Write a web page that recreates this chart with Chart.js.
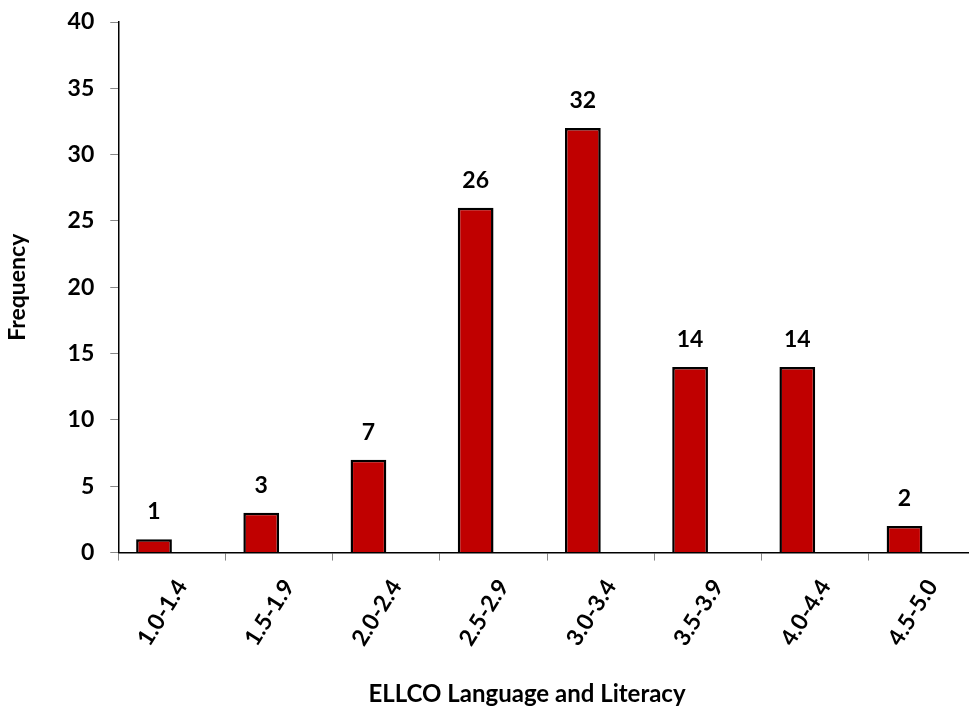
<!DOCTYPE html>
<html>
  <head>
    <title>ELLCO Language and Literacy</title>
    <style>
      html, body { margin: 0; padding: 0; background: #fff; overflow: hidden; }
      #wrap { position: relative; width: 976px; height: 709px; }
    </style>
  </head>
  <body>
    <div id="wrap"><canvas id="histChart"></canvas></div>

    <script src="https://cdn.jsdelivr.net/npm/chart.js@4/dist/chart.umd.min.js"></script>
    <script>
      var categories = ["1.0-1.4", "1.5-1.9", "2.0-2.4", "2.5-2.9", "3.0-3.4", "3.5-3.9", "4.0-4.4", "4.5-5.0"];
      var frequency = [1, 3, 7, 26, 32, 14, 14, 2];
      // the source chart holds a second, empty series, which pushes each bar left of centre
      var emptySeries = [null, null, null, null, null, null, null, null];
      var yTicks = [0, 5, 10, 15, 20, 25, 30, 35, 40];
      var xTitle = "ELLCO Language and Literacy";
      var yTitle = "Frequency";

      var fontFamily = "Lato, 'Open Sans', sans-serif";
      var fontSize = 23;

      // values above each bar
      var valueLabels = {
        id: "valueLabels",
        afterDatasetsDraw: function (chart) {
          var ctx = chart.ctx;
          var meta = chart.getDatasetMeta(0);
          ctx.save();
          ctx.font = "bold " + fontSize + "px " + fontFamily;
          ctx.fillStyle = "#000";
          ctx.textAlign = "center";
          ctx.textBaseline = "alphabetic";
          meta.data.forEach(function (bar, i) {
            ctx.fillText(frequency[i], bar.x, bar.y - 20);
          });
          ctx.restore();
        },
      };

      // x title under the rotated labels
      var bottomTitle = {
        id: "bottomTitle",
        afterDraw: function (chart) {
          var ctx = chart.ctx;
          ctx.save();
          ctx.font = "bold 24px " + fontFamily;
          ctx.fillStyle = "#000";
          ctx.textAlign = "center";
          ctx.textBaseline = "middle";
          ctx.fillText(xTitle, chart.width * 0.54, chart.height - 15);
          ctx.restore();
        },
      };

      window.onload = function () {
        var canvas = document.getElementById("histChart");
        new Chart(canvas.getContext("2d"), {
          type: "bar",
          data: {
            labels: categories,
            datasets: [
              {
                label: yTitle,
                data: frequency,
                backgroundColor: "#C00000",
                borderColor: "#000",
                borderWidth: 2.5,
                barPercentage: 1,
                categoryPercentage: 0.667,
              },
              {
                label: "",
                data: emptySeries,
                backgroundColor: "transparent",
                borderWidth: 0,
                barPercentage: 1,
                categoryPercentage: 0.667,
              },
            ],
          },
          options: {
            responsive: true,
            maintainAspectRatio: false,
            animation: false,
            layout: { padding: { top: 22, right: 0, bottom: 44, left: 4 } },
            plugins: {
              legend: { display: false },
              tooltip: { enabled: false },
            },
            scales: {
              x: {
                offset: true,
                border: { color: "#000", width: 1.5 },
                grid: {
                  offset: true,
                  drawOnChartArea: false,
                  drawTicks: true,
                  tickLength: 8,
                  color: "#888",
                },
                ticks: {
                  color: "#000",
                  font: { family: fontFamily, size: fontSize, weight: "bold" },
                  minRotation: 58,
                  maxRotation: 58,
                  padding: 14,
                  labelOffset: 10,
                },
              },
              y: {
                min: 0,
                max: 40,
                afterBuildTicks: function (axis) {
                  axis.ticks = yTicks.map(function (v) { return { value: v }; });
                },
                afterFit: function (axis) {
                  axis.paddingTop = 0;
                  axis.paddingBottom = 0;
                },
                border: { color: "#000", width: 1.5 },
                grid: {
                  drawOnChartArea: false,
                  tickLength: 8,
                  color: "#888",
                },
                ticks: {
                  color: "#000",
                  font: { family: fontFamily, size: fontSize, weight: "bold" },
                  padding: 16,
                },
                title: {
                  display: true,
                  text: yTitle,
                  color: "#000",
                  font: { family: fontFamily, size: fontSize, weight: "bold" },
                  padding: { top: 0, bottom: 20 },
                },
              },
            },
          },
          plugins: [valueLabels, bottomTitle],
        });
      };
    </script>
  </body>
</html>
